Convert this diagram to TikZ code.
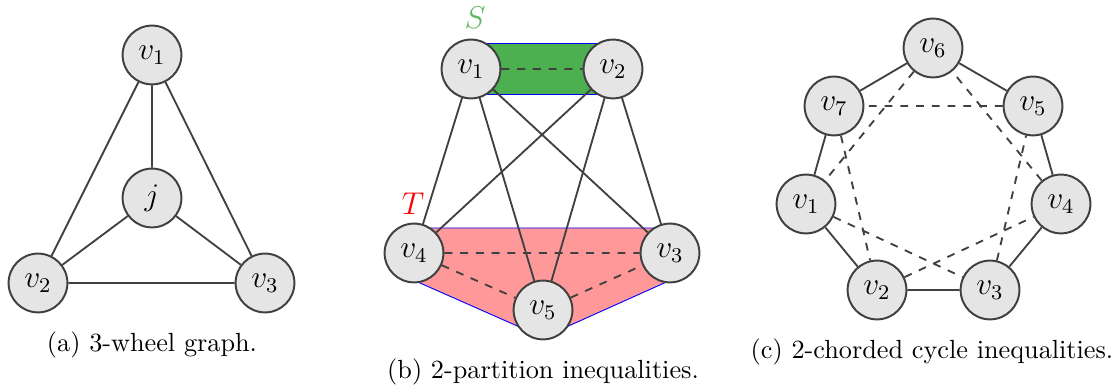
\documentclass[tikz,border=0pt]{standalone}
\begin{document}
\begin{tikzpicture}[x=0.381pt,y=-0.381pt,
  vtx/.style={circle,draw=black!75,fill=black!10,line width=0.75pt,minimum size=22.4pt,inner sep=0pt,font=\large},
  edg/.style={draw=black!75,line width=0.7pt},
  chord/.style={edg,dashed},
  area/.style={draw=blue,line width=0.35pt}]
\definecolor{sgreen}{RGB}{76,175,80}
\definecolor{tred}{RGB}{255,153,153}
\useasboundingbox (0,0) rectangle (1118,387);
% ---------- (a) ----------
\node[vtx] (a1) at (152,55) {$v_1$};
\node[vtx] (aj) at (152,198) {$j$};
\node[vtx] (a2) at (38,283) {$v_2$};
\node[vtx] (a3) at (265,283) {$v_3$};
\draw[edg] (a1)--(aj) (a1)--(a2) (a1)--(a3) (aj)--(a2) (aj)--(a3) (a2)--(a3);
\node (capa) at (152,345) {(a) 3-wheel graph.};
% ---------- (b) ----------
\fill[sgreen] (471,43.5) rectangle (613,94.5);
\draw[area] (471,43.5)--(613,43.5) (471,94.5)--(613,94.5);
\filldraw[fill=tred,area] (414,228)--(670,228)--(695,253)--(680.1,275.9)--(553.1,332.9)--(532.9,332.9)--(403.9,275.9)--(389,253)--cycle;
\node[vtx] (b1) at (471,69) {$v_1$};
\node[vtx] (b2) at (613,69) {$v_2$};
\node[vtx] (b4) at (414,253) {$v_4$};
\node[vtx] (b3) at (670,253) {$v_3$};
\node[vtx] (b5) at (543,310) {$v_5$};
\draw[edg] (b1)--(b4) (b1)--(b5) (b1)--(b3) (b2)--(b4) (b2)--(b5) (b2)--(b3);
\draw[chord] (b1)--(b2) (b4)--(b3) (b4)--(b5) (b5)--(b3);
\node[text=sgreen!90!white,font=\large] (labS) at (475,18) {$S$};
\node[text=red,font=\large] (labT) at (413,204) {$T$};
\node (capb) at (543,372) {(b) 2-partition inequalities.};
% ---------- (c) ----------
\node[vtx] (c6) at (933,48) {$v_6$};
\node[vtx] (c7) at (834,106) {$v_7$};
\node[vtx] (c5) at (1033,106) {$v_5$};
\node[vtx] (c1) at (806,204) {$v_1$};
\node[vtx] (c4) at (1061,204) {$v_4$};
\node[vtx] (c2) at (877,290) {$v_2$};
\node[vtx] (c3) at (990,290) {$v_3$};
\draw[edg] (c1)--(c2) (c2)--(c3) (c3)--(c4) (c4)--(c5) (c5)--(c6) (c6)--(c7) (c7)--(c1);
\draw[chord] (c1)--(c3) (c2)--(c4) (c3)--(c5) (c4)--(c6) (c5)--(c7) (c6)--(c1) (c7)--(c2);
\node (capc) at (932,352) {(c) 2-chorded cycle inequalities.};
\end{tikzpicture}
\end{document}
